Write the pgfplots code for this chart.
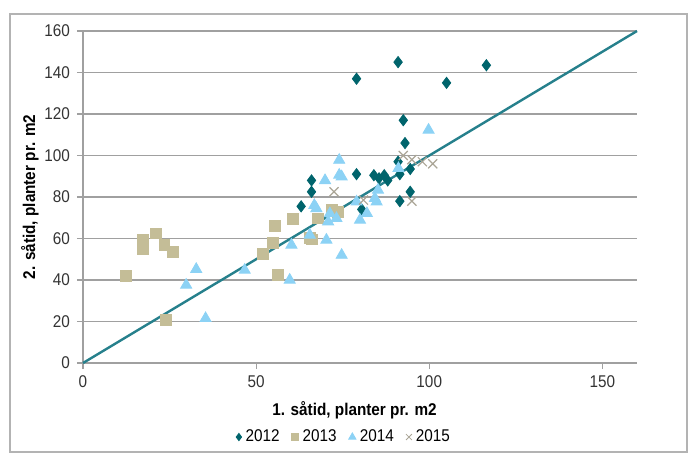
\documentclass[border=0pt]{standalone}
\usepackage{pgfplots}
\pgfplotsset{compat=1.18}
\usepackage{fontspec}
\setmainfont[FakeStretch=0.9]{Liberation Sans}
\definecolor{c12}{RGB}{0,100,108}
\definecolor{c13}{RGB}{196,189,151}
\definecolor{c14}{RGB}{140,210,245}
\definecolor{c15}{RGB}{170,165,150}
\definecolor{cline}{RGB}{38,128,140}
\definecolor{cgrid}{RGB}{160,160,160}
\begin{document}
\begin{tikzpicture}
\useasboundingbox (-41.5pt,-46pt) rectangle (303.5pt,181.5pt);
\draw[cgrid!80, line width=0.6pt] (-36.5pt,-44.5pt) rectangle (302pt,174.5pt);
\begin{axis}[
  at={(0pt,0pt)}, anchor=south west,
  scale only axis, width=277pt, height=166pt,
  xmin=0, xmax=160, ymin=0, ymax=160,
  xtick={0,50,100,150}, ytick={0,20,...,160},
  axis lines*=left,
  axis line style={cgrid, line width=0.7pt},
  tick align=outside, major tick length=3pt,
  tick style={cgrid, line width=0.6pt},
  ymajorgrids, grid style={cgrid, line width=0.6pt},
  ticklabel style={font=\fontsize{8.5}{9}\selectfont, color=black!80},
  /pgf/number format/assume math mode=true,
  xlabel={1. såtid, planter pr. m2},
  ylabel={2. såtid, planter pr. m2},
  label style={font=\bfseries\fontsize{8.5}{9}\selectfont},
  xlabel style={at={(axis description cs:0.49,-0.142)}, anchor=center},
  ylabel style={at={(axis description cs:-0.096,0.5)}, anchor=center, rotate=0},
  legend style={at={(0.473,-0.223)}, anchor=center, draw=none, fill=none,
    legend columns=4, font=\fontsize{8.5}{9}\selectfont,
    /tikz/every even column/.append style={column sep=4pt}},
  legend cell align=left,
  legend image code/.code={\draw[#1, mark options={scale=0.65}] plot coordinates {(0.05cm,0cm)};},
  clip=false,
]
\addplot[only marks, mark=diamond*, mark size=2.8pt, color=c12, mark options={fill=c12, draw=c12}] coordinates {
(63,75.5) (66,88) (66,82.5) (79,137) (79,91) (80.5,74) (84,90.5) (85.5,89)
(87,90.5) (88,88) (91,145) (91,97) (91.5,91) (91.5,78) (92.5,117) (93,106)
(94.5,93.5) (94.5,82.5) (105,135) (116.5,143.5)
};
\addlegendentry{2012}
\addplot[only marks, mark=square*, mark size=2.7pt, color=c13, mark options={fill=c13, draw=c13}] coordinates {
(12.4,42) (17.2,59.5) (17.2,55) (21,62.5) (23.5,57) (26,53.6) (24,20.7)
(55.4,66) (60.7,69.5) (54.9,57.7) (52,52.4) (56.3,42.4) (66,59.6) (67.9,69.7)
(71.8,73.7) (73.7,72.9) (65.5,60.1)
};
\addlegendentry{2013}
\addplot[only marks, mark=triangle*, mark size=3.2pt, color=c14, mark options={fill=c14, draw=c14}] coordinates {
(29.8,37.6) (32.7,45.2) (35.4,21.5) (46.7,44.8) (59.7,40) (60.2,56.9) (65.5,61.7)
(66.8,76) (67.4,74.5) (69.9,88) (70.3,59.3) (70.8,68.1) (73.2,69.7) (71.3,72)
(74,97.8) (74,90.6) (74.7,89.8) (74.7,52) (79,77.7) (80,68.9) (82,72.1)
(84.3,79.4) (85.2,83.4) (84.8,77.7) (91.1,93.8) (99.8,112.3)
};
\addlegendentry{2014}
\addplot[only marks, mark=x, mark size=3.2pt, color=c15, mark options={line width=0.6pt}] coordinates {
(72.5,82.5) (81,78.5) (92.5,100) (95,98) (98,97) (101,96) (95,78)
};
\addlegendentry{2015}
\addplot[cline, line width=1.2pt, forget plot] coordinates {(0,0) (160,160)};
\end{axis}
\end{tikzpicture}
\end{document}
